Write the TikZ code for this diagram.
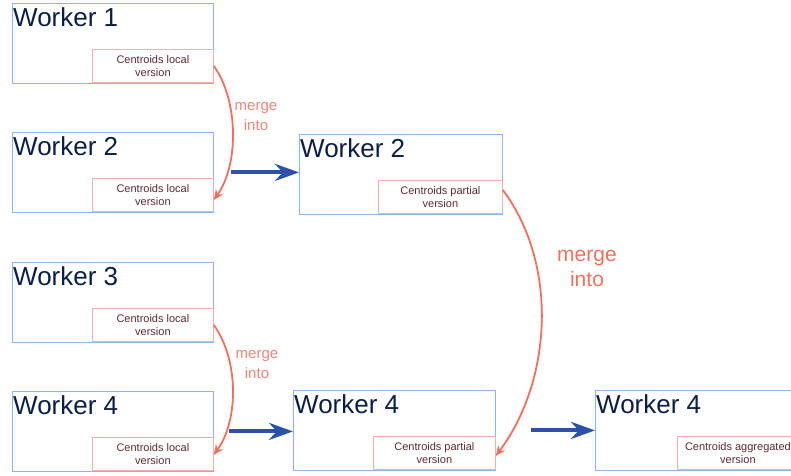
\documentclass[tikz,border=0pt]{standalone}
\usepackage{fontspec}
\setmainfont{Liberation Sans}
\usepackage{tikz}
\usetikzlibrary{positioning}
\usetikzlibrary{arrows.meta}
\usepackage{xcolor}
\definecolor{workerblue}{HTML}{8DB3E8}
\definecolor{workertext}{HTML}{0B1E45}
\definecolor{partred}{HTML}{F4AFAF}
\definecolor{parttext}{HTML}{5B2A2E}
\definecolor{mergered}{HTML}{F0705E}
\definecolor{flowblue}{HTML}{2C52A8}

\begin{document}
\begin{tikzpicture}[x=1pt, y=-1pt,
            worker/.style={draw=workerblue, line width=0.8pt, anchor=north west, minimum width=201pt, minimum height=80pt, inner sep=0pt},
            title/.style={text=workertext, font=\fontsize{26}{28}\selectfont, inner xsep=1pt, inner ysep=4pt},
            part/.style={draw=partred, line width=0.8pt, minimum width=121pt, minimum height=33pt, inner sep=0pt, align=center, text=parttext, font=\fontsize{11}{13}\selectfont},
            merge/.style={draw=mergered, line width=1.8pt, -{Stealth[length=10pt,width=9pt]}},
            flow/.style={draw=flowblue, line width=4pt, -{Stealth[length=24pt,width=17pt]}},
            mergelabel/.style={text=mergered!85, align=center, font=\fontsize{15}{20}\selectfont}]
            \useasboundingbox (0,0) rectangle (791,475);

            \node[worker] (w1) at (12,3) {};
            \node[worker] (w2) at (12,132) {};
            \node[worker] (w3) at (12,262) {};
            \node[worker] (w4) at (12,391) {};
            \node[worker, minimum width=203pt] (m2) at (299,134) {};
            \node[worker, minimum width=202pt] (m4) at (293,390) {};
            \node[worker, minimum width=203pt] (r4) at (595,390) {};

            \node[title, below right=0pt of w1.north west] (t1) {Worker 1};
            \node[title, below right=0pt of w2.north west] (t2) {Worker 2};
            \node[title, below right=0pt of w3.north west] (t3) {Worker 3};
            \node[title, below right=0pt of w4.north west] (t4) {Worker 4};
            \node[title, below right=0pt of m2.north west] (tm2) {Worker 2};
            \node[title, below right=0pt of m4.north west] (tm4) {Worker 4};
            \node[title, below right=0pt of r4.north west] (tr4) {Worker 4};

            \node[part, above left=1pt and 0pt of w1.south east] (p1) {Centroids local\\version};
            \node[part, above left=1pt and 0pt of w2.south east] (p2) {Centroids local\\version};
            \node[part, above left=1pt and 0pt of w3.south east] (p3) {Centroids local\\version};
            \node[part, above left=1pt and 0pt of w4.south east] (p4) {Centroids local\\version};
            \node[part, minimum width=124pt, above left=1pt and 0pt of m2.south east] (pm2) {Centroids partial\\version};
            \node[part, minimum width=122pt, above left=1pt and 0pt of m4.south east] (pm4) {Centroids partial\\version};
            \node[part, above left=1pt and 0pt of r4.south east] (pr4) {Centroids aggregated\\version};

            \node[mergelabel] (l1) at (256,117) {merge\\into};
            \node[mergelabel] (l3) at (257,365) {merge\\into};
            \node[mergelabel, text=mergered, font=\fontsize{21}{25}\selectfont] (lm) at (587,268) {merge\\into};

            \draw[merge] (p1.east) .. controls +(25,35) and +(25,-35) .. ([yshift=-5pt]p2.east);
            \draw[merge] (p3.east) .. controls +(25,35) and +(25,-35) .. ([yshift=-1pt]p4.east);
            \draw[merge] ([yshift=7pt]pm2.east) .. controls +(56,75) and +(56,-75) .. ([yshift=-3pt]pm4.east);

            \draw[flow, shorten <=17pt] (w2.east) -- (w2.east -| m2.west);
            \draw[flow, shorten <=15pt] (w4.east) -- (w4.east -| m4.west);
            \draw[flow, shorten <=35pt] (m4.east) -- (m4.east -| r4.west);
        \end{tikzpicture}
\end{document}
